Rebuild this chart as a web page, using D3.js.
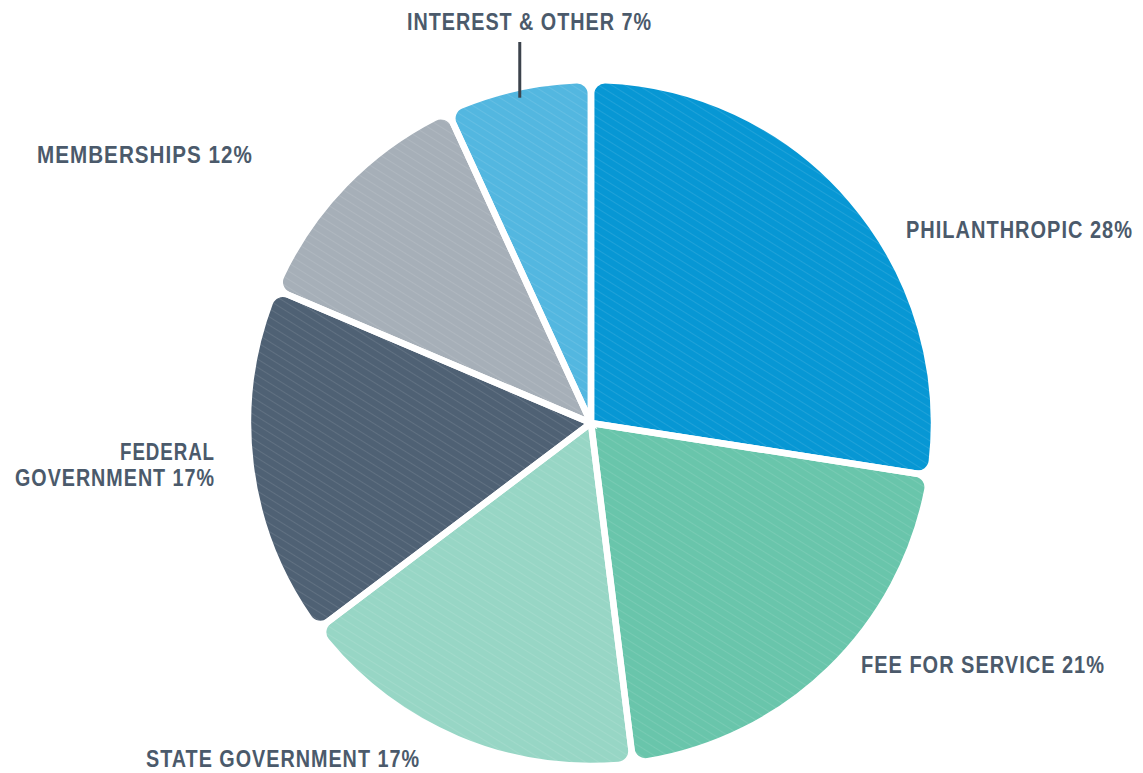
<!DOCTYPE html>
<html>
<head>
<meta charset="utf-8">
<script src="https://cdn.jsdelivr.net/npm/d3@7"></script>
<style>
  html, body { margin: 0; padding: 0; background: #ffffff; }
  svg { display: block; }
  .label {
    font-family: "Liberation Sans", Arial, "DejaVu Sans Condensed", sans-serif;
    font-weight: bold;
    font-size: 20px;
    letter-spacing: 1px;
    fill: #4b5a6b;
  }
</style>
</head>
<body>
<svg id="chart" width="1143" height="773"></svg>
<script>
// Revenue sources, share of total (%)
const categories = ["PHILANTHROPIC", "FEE FOR SERVICE", "STATE GOVERNMENT", "FEDERAL GOVERNMENT", "MEMBERSHIPS", "INTEREST & OTHER"];
const values = [28, 21, 17, 17, 12, 7];
const colors = ["#0797d4", "#69c5ab", "#97d6c5", "#4f6174", "#a6afb8", "#53b7e0"];

// Label placement: text lines, anchor point, alignment and set width of each line
const labelLayout = [
  { lines: ["PHILANTHROPIC 28%"], widths: [227], x: 906, y: 238, anchor: "start" },
  { lines: ["FEE FOR SERVICE 21%"], widths: [244], x: 861, y: 673, anchor: "start" },
  { lines: ["STATE GOVERNMENT 17%"], widths: [274], x: 146, y: 767, anchor: "start" },
  { lines: ["FEDERAL", "GOVERNMENT 17%"], widths: [95, 200], x: 215, y: 460, anchor: "end" },
  { lines: ["MEMBERSHIPS 12%"], widths: [216], x: 37, y: 163, anchor: "start" },
  { lines: ["INTEREST & OTHER 7%"], widths: [245], x: 407, y: 30, anchor: "start" }
];
// Labels are set in a tall, narrow cut: glyphs stretched vertically
const labelStretch = 1.2;
const lineGap = 26;

const svg = d3.select("#chart");
const cx = 591, cy = 423, radius = 343;

// Fine diagonal texture laid over every slice
const defs = svg.append("defs");
const pat = defs.append("pattern")
  .attr("id", "hatch")
  .attr("patternUnits", "userSpaceOnUse")
  .attr("width", 12).attr("height", 7)
  .attr("patternTransform", "rotate(32)");
pat.append("line")
  .attr("x1", 0).attr("y1", 3.5).attr("x2", 12).attr("y2", 3.5)
  .attr("stroke", "#ffffff").attr("stroke-opacity", 0.1).attr("stroke-width", 1);

const pie = d3.pie().sort(null).value(d => d.value);
const arcs = pie(categories.map((c, i) => ({ name: c, value: values[i], color: colors[i] })));

const arc = d3.arc().innerRadius(0).outerRadius(radius).cornerRadius(14);

const g = svg.append("g").attr("transform", `translate(${cx},${cy})`);

g.selectAll("path.slice")
  .data(arcs)
  .join("path")
  .attr("class", "slice")
  .attr("d", arc)
  .attr("fill", d => d.data.color);

g.selectAll("path.texture")
  .data(arcs)
  .join("path")
  .attr("class", "texture")
  .attr("d", arc)
  .attr("fill", "url(#hatch)")
  .attr("stroke", "#ffffff")
  .attr("stroke-width", 6.5)
  .attr("stroke-linejoin", "miter");

// Leader line for the small slice at the top
const last = arcs[arcs.length - 1];
const mid = (last.startAngle + last.endAngle) / 2;
const lx = cx + Math.sin(mid) * (radius - 10);
svg.append("line")
  .attr("x1", lx).attr("x2", lx)
  .attr("y1", 42).attr("y2", cy - Math.cos(mid) * (radius - 10))
  .attr("stroke", "#3c434c")
  .attr("stroke-width", 3);

// Labels
labelLayout.forEach(l => {
  const t = svg.append("text")
    .attr("class", "label")
    .attr("text-anchor", l.anchor)
    .attr("transform", `translate(${l.x},${l.y}) scale(1,${labelStretch})`)
    .attr("x", 0)
    .attr("y", 0);
  l.lines.forEach((line, k) => {
    t.append("tspan")
      .attr("x", 0)
      .attr("dy", k === 0 ? 0 : lineGap / labelStretch)
      .attr("textLength", l.widths[k])
      .attr("lengthAdjust", "spacingAndGlyphs")
      .text(line);
  });
});
</script>
</body>
</html>
